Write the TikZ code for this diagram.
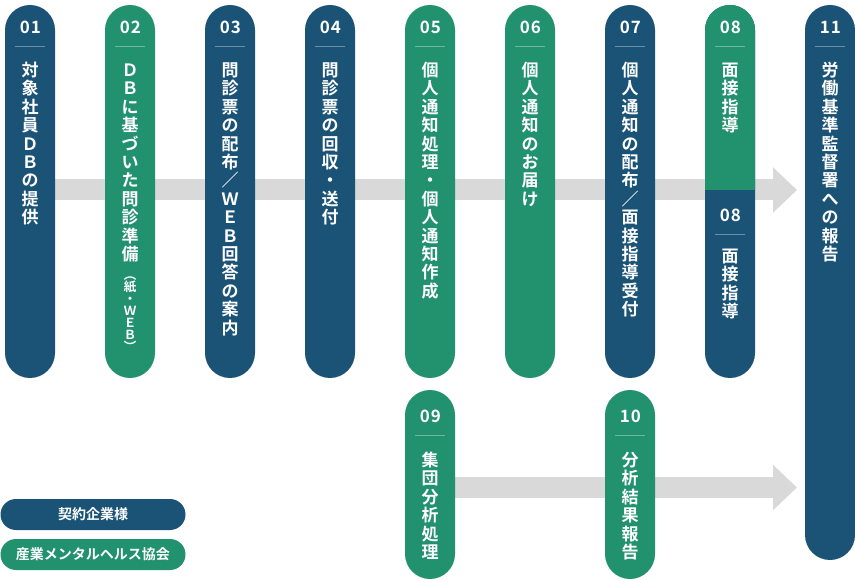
\documentclass[tikz,border=0pt]{standalone}
\usepackage{fontspec}
\setmainfont{Noto Sans CJK JP}[BoldFont={Noto Sans CJK JP Bold}]
\newfontfamily\numfont{Noto Sans CJK JP Bold}[LetterSpace=5]
\usetikzlibrary{arrows.meta,backgrounds}
\definecolor{cblue}{HTML}{1B5377}
\definecolor{cgreen}{HTML}{22916D}
\definecolor{cgray}{HTML}{D9D9D9}
\tikzset{
 pillbox/.style={rounded corners=25pt, minimum width=50pt, inner sep=0pt, draw=none},
 numtxt/.style={text=white, font=\numfont\fontsize{17}{17}\selectfont, inner sep=0pt},
 chr/.style={text=white, font=\fontsize{17}{17}\selectfont\bfseries, inner sep=0pt, anchor=base},
 schr/.style={text=white, font=\fontsize{12.5}{12.5}\selectfont\bfseries, inner sep=0pt, anchor=base},
 sepline/.style={draw=white, draw opacity=0.35, line width=0.8pt},
 flow/.style={draw=cgray, line width=21pt, -{Triangle[width=44pt,length=24pt]}},
 legendbox/.style={rounded corners=15.5pt, minimum width=185pt, minimum height=31pt, text=white, font=\fontsize{14}{14}\selectfont\bfseries, inner sep=0pt},
}
\newcommand\vtext[4]{\foreach \c [count=\i] in {#4} {\node[chr] (#1-\i) at (#2, {#3+6.5+18.4*(\i-1)}) {\c};}}
\newcommand\stext[4]{\foreach \c [count=\i] in {#4} {\node[schr] (#1-\i) at (#2, {#3+4.75+12*(\i-1)}) {\c};}}
\newcommand\numsep[4]{\node[numtxt] (#1) at (#2+0.4,#3) {#4}; \draw[sepline] (#2-15,#3+19) -- (#2+15,#3+19);}
\begin{document}
\begin{tikzpicture}[x=1pt,y=-1pt]
\useasboundingbox (0,0) rectangle (855,580);
% pills
\node[pillbox, fill=cblue,  minimum height=373pt] (p01) at (30,191.5) {};
\node[pillbox, fill=cgreen, minimum height=373pt] (p02) at (130,191.5) {};
\node[pillbox, fill=cblue,  minimum height=373pt] (p03) at (230,191.5) {};
\node[pillbox, fill=cblue,  minimum height=373pt] (p04) at (330,191.5) {};
\node[pillbox, fill=cgreen, minimum height=373pt] (p05) at (430,191.5) {};
\node[pillbox, fill=cgreen, minimum height=373pt] (p06) at (530,191.5) {};
\node[pillbox, fill=cblue,  minimum height=373pt] (p07) at (630,191.5) {};
\node[pillbox, fill=cblue,  minimum height=373pt] (p08) at (730,191.5) {};
\begin{scope}
\clip (705,0) rectangle (755,190);
\fill[cgreen, rounded corners=25pt] (705,5) rectangle (755,378);
\end{scope}
\node[pillbox, fill=cblue,  minimum height=555pt] (p11) at (830,282.5) {};
\node[pillbox, fill=cgreen, minimum height=189pt] (p09) at (430,484.5) {};
\node[pillbox, fill=cgreen, minimum height=189pt] (p10) at (630,484.5) {};
% arrows
\coordinate (tip1) at (797,190);
\coordinate (tip2) at (797,487.5);
\begin{scope}[on background layer]
\draw[flow] (p01.center |- tip1) -- (tip1);
\draw[flow] (p09.center |- tip2) -- (tip2);
\end{scope}
% numbers
\numsep{n01}{30}{27}{01}
\numsep{n02}{130}{27}{02}
\numsep{n03}{230}{27}{03}
\numsep{n04}{330}{27}{04}
\numsep{n05}{430}{27}{05}
\numsep{n06}{530}{27}{06}
\numsep{n07}{630}{27}{07}
\numsep{n08a}{730}{27}{08}
\numsep{n08b}{730}{215}{08}
\numsep{n11}{830}{27}{11}
\numsep{n09}{430}{416}{09}
\numsep{n10}{630}{416}{10}
% texts
\vtext{t01}{30}{70}{対,象,社,員,Ｄ,Ｂ,の,提,供}
\vtext{t02}{130}{70}{Ｄ,Ｂ,に,基,づ,い,た,問,診,準,備}
\stext{s02}{130}{275}{︵,紙,・,Ｗ,Ｅ,Ｂ,︶}
\vtext{t03}{230}{70}{問,診,票,の,配,布,／,Ｗ,Ｅ,Ｂ,回,答,の,案,内}
\vtext{t04}{330}{70}{問,診,票,の,回,収,・,送,付}
\vtext{t05}{430}{70}{個,人,通,知,処,理,・,個,人,通,知,作,成}
\vtext{t06}{530}{70}{個,人,通,知,の,お,届,け}
\vtext{t07}{630}{70}{個,人,通,知,の,配,布,／,面,接,指,導,受,付}
\vtext{t08a}{730}{70}{面,接,指,導}
\vtext{t08b}{730}{256}{面,接,指,導}
\vtext{t11}{830}{70}{労,働,基,準,監,督,署,へ,の,報,告}
\vtext{t09}{430}{460}{集,団,分,析,処,理}
\vtext{t10}{630}{460}{分,析,結,果,報,告}
% legend
\node[legendbox, fill=cblue] (lg1) at (93,514.5) {契約企業様};
\node[legendbox, fill=cgreen] (lg2) at (93,554.5) {産業メンタルヘルス協会};
\end{tikzpicture}
\end{document}
